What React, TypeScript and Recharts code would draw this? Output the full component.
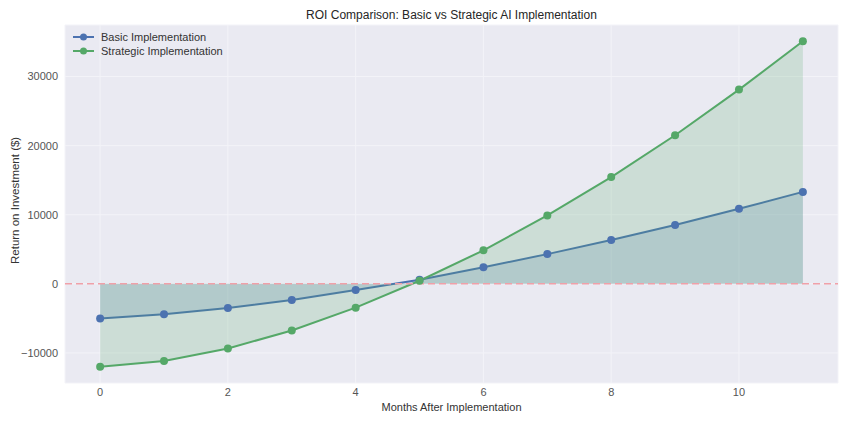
import {
  ComposedChart,
  Area,
  XAxis,
  YAxis,
  CartesianGrid,
  ReferenceLine,
} from 'recharts';

const months = [0, 1, 2, 3, 4, 5, 6, 7, 8, 9, 10, 11];
const basicRoi = [-5000, -4400, -3500, -2350, -900, 600, 2400, 4300, 6350, 8500, 10850, 13300];
const strategicRoi = [-12000, -11150, -9350, -6750, -3450, 450, 4850, 9900, 15450, 21500, 28100, 35100];
const xTicks = [0, 2, 4, 6, 8, 10];
const yTicks = [-10000, 0, 10000, 20000, 30000];

const BLUE = '#4C72B0';
const GREEN = '#55A868';
const FONT = '"Liberation Sans", Arial, sans-serif';

const chartData = months.map((m, i) => ({
  month: m,
  basic: basicRoi[i],
  strategic: strategicRoi[i],
}));

const legendItems = [
  { label: 'Basic Implementation', color: BLUE },
  { label: 'Strategic Implementation', color: GREEN },
];

const fmtTick = (v: number) => String(v).replace('-', '\u2212');

function LegendBox() {
  return (
    <div style={{ position: 'absolute', top: 30, left: 72, fontFamily: FONT, fontSize: 11, color: '#333' }}>
      {legendItems.map(item => (
        <div key={item.label} style={{ display: 'flex', alignItems: 'center', height: 14 }}>
          <svg width={24} height={10} style={{ marginRight: 5 }}>
            <line x1={1} y1={5} x2={22} y2={5} stroke={item.color} strokeWidth={2} />
            <circle cx={11.5} cy={5} r={3.5} fill={item.color} />
          </svg>
          <span>{item.label}</span>
        </div>
      ))}
    </div>
  );
}

export default function App() {
  return (
    <div style={{ position: 'absolute', top: 0, left: 0, width: 848, height: 424, background: '#fff', fontFamily: FONT }}>
      <ComposedChart
        width={848}
        height={424}
        data={chartData}
        margin={{ top: 25, right: 10, left: 0, bottom: 0 }}
      >
        <CartesianGrid fill="#EAEAF2" stroke="#F3F3F8" strokeWidth={1} />
        <XAxis
          dataKey="month"
          type="number"
          domain={[-0.55, 11.55]}
          ticks={xTicks}
          axisLine={false}
          tickLine={false}
          tickSize={0}
          tickMargin={5}
          height={41}
          tick={{ fontSize: 11, fill: '#555', fontFamily: FONT }}
          label={{ value: 'Months After Implementation', position: 'insideBottom', offset: 13, fontSize: 11, fill: '#333', fontFamily: FONT }}
        />
        <YAxis
          type="number"
          domain={[-14350, 37450]}
          ticks={yTicks}
          tickFormatter={fmtTick}
          axisLine={false}
          tickLine={false}
          tickSize={0}
          tickMargin={7}
          width={65}
          tick={{ fontSize: 11, fill: '#555', fontFamily: FONT }}
          label={{ value: 'Return on Investment ($)', angle: -90, position: 'insideLeft', offset: 15, dy: 60, fontSize: 11.5, fill: '#333', fontFamily: FONT }}
        />
        <ReferenceLine y={0} stroke="#F0A0A8" strokeWidth={1.5} strokeDasharray="7 4" />
        <Area
          type="linear"
          dataKey="basic"
          baseValue={0}
          stroke={BLUE}
          strokeWidth={2}
          fill={BLUE}
          fillOpacity={0.2}
          dot={{ r: 4, fill: BLUE, fillOpacity: 1, stroke: 'none' }}
          activeDot={false}
          isAnimationActive={false}
        />
        <Area
          type="linear"
          dataKey="strategic"
          baseValue={0}
          stroke={GREEN}
          strokeWidth={2}
          fill={GREEN}
          fillOpacity={0.2}
          dot={{ r: 4, fill: GREEN, fillOpacity: 1, stroke: 'none' }}
          activeDot={false}
          isAnimationActive={false}
        />
      </ComposedChart>
      <div
        style={{
          position: 'absolute',
          top: 8,
          left: 65,
          width: 773,
          textAlign: 'center',
          fontSize: 12,
          color: '#262626',
        }}
      >
        ROI Comparison: Basic vs Strategic AI Implementation
      </div>
      <LegendBox />
    </div>
  );
}
